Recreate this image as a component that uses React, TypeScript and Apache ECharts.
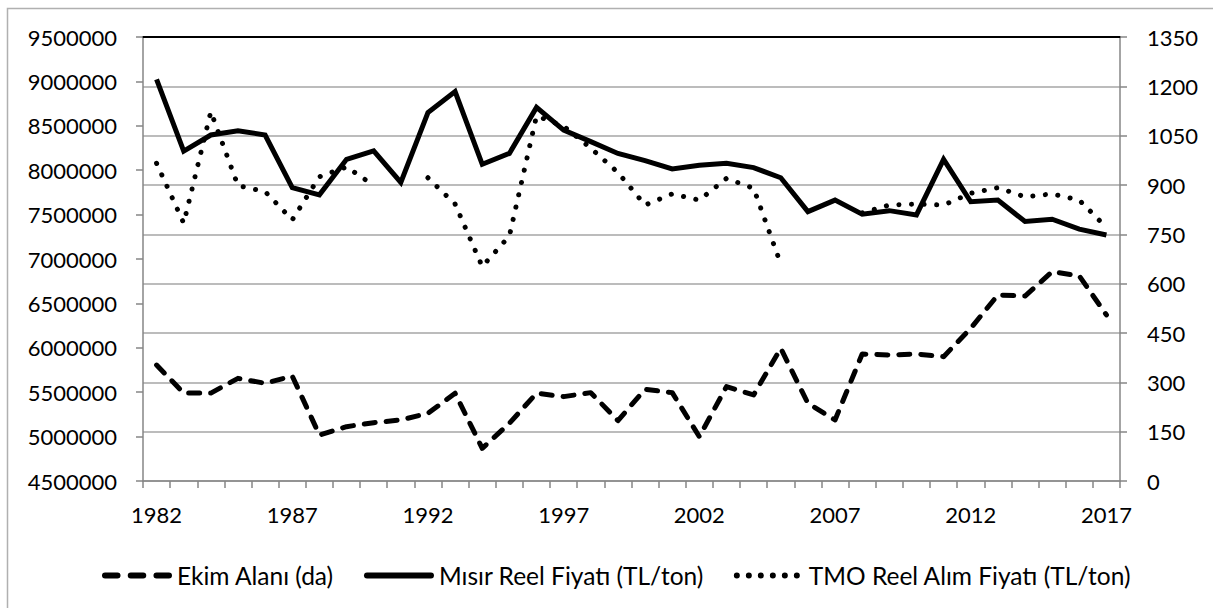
import React, { useEffect, useRef } from "react";
import * as echarts from "echarts";

const years: string[] = [];
for (let y = 1982; y <= 2017; y++) years.push(String(y));

const ekimAlani = [
  5806000, 5490000, 5490000, 5656000, 5600000, 5682000, 5018000, 5112000, 5157000, 5187000,
  5262000, 5488000, 4868000, 5150000, 5488000, 5450000, 5495000, 5180000, 5533000, 5495000,
  4999000, 5563000, 5469000, 5994000, 5375000, 5187000, 5930000, 5919000, 5930000, 5900000,
  6220000, 6595000, 6583000, 6857000, 6809000, 6370000,
];

const misirFiyat = [
  1221, 1003, 1052, 1065, 1052, 892, 870, 978, 1004, 908,
  1120, 1184, 963, 996, 1136, 1067, 1032, 996, 974, 949,
  960, 966, 953, 922, 819, 854, 811, 822, 809, 978,
  849, 854, 789, 796, 766, 748,
];

const tmoFiyat: (number | null)[] = [
  966, 784, 1123, 898, 880, 794, 925, 955, 899, null,
  922, 842, 652, 745, 1110, 1079, 1012, 938, 839, 873,
  854, 920, 890, 660, null, null, 815, 839, 842, 839,
  875, 892, 864, 873, 854, 771,
];

const leftTicks = { min: 4500000, max: 9500000, interval: 500000 };
const rightTicks = { min: 0, max: 1350, interval: 150 };

const FONT = "Lato";

function pill(x0: number, x1: number, r: number) {
  return `M${x0 + r},0 H${x1 - r} A${r},${r} 0 0 1 ${x1 - r},${2 * r} H${x0 + r} A${r},${r} 0 0 1 ${x0 + r},0 Z `;
}
function dot(cx: number, r: number) {
  return `M${cx - r},${r} A${r},${r} 0 1 0 ${cx + r},${r} A${r},${r} 0 1 0 ${cx - r},${r} Z `;
}
const dashedIcon = "path://" + pill(0, 18, 3) + pill(25, 43, 3) + pill(50, 68, 3);
const solidIcon = "path://" + pill(0, 70, 3);
const dottedIcon = "path://" + [3, 15, 27, 39, 51, 63].map((c) => dot(c, 3)).join("") + "M0,0 M70,6";

export default function App() {
  const ref = useRef<HTMLDivElement>(null);
  useEffect(() => {
    if (!ref.current) return;
    const chart = echarts.init(ref.current, null, { renderer: "svg" });
    const axisColor = "#868686";
    const gridColor = "#a6a6a6";
    const labelStyle = { color: "#000", fontFamily: FONT, fontSize: 22 };
    chart.setOption({
      animation: false,
      backgroundColor: "#fff",
      textStyle: { fontFamily: FONT },
      graphic: [
        {
          type: "rect",
          shape: { x: 7.5, y: 8.5, width: 1230, height: 640 },
          style: { fill: "none", stroke: "#b0b0b0", lineWidth: 1.5 },
          z: -10,
          silent: true,
        },
      ],
      grid: { left: 143, right: 93, top: 37, bottom: 127, containLabel: false },
      legend: {
        left: 97,
        top: 558,
        itemWidth: 70,
        itemHeight: 6,
        itemGap: 30,
        symbolKeepAspect: false,
        itemStyle: { color: "#000", borderWidth: 0 },
        textStyle: { color: "#000", fontFamily: FONT, fontSize: 24.5 },
        data: [
          { name: "Ekim Alanı (da)", icon: dashedIcon },
          { name: "Mısır Reel Fiyatı (TL/ton)", icon: solidIcon },
          { name: "TMO Reel Alım Fiyatı (TL/ton)", icon: dottedIcon },
        ],
      },
      xAxis: [
        {
          type: "category",
          data: years,
          boundaryGap: true,
          axisLine: { lineStyle: { color: axisColor, width: 1.5 } },
          axisTick: { show: true, interval: 0, length: 7, lineStyle: { color: axisColor, width: 1.5 } },
          axisLabel: { interval: 4, margin: 22, ...labelStyle },
          splitLine: { show: false },
        },
        {
          type: "category",
          data: years,
          position: "top",
          boundaryGap: true,
          axisLine: { lineStyle: { color: "#000", width: 2 } },
          axisTick: { show: false },
          axisLabel: { show: false },
          splitLine: { show: false },
        },
      ],
      yAxis: [
        {
          type: "value",
          position: "left",
          min: leftTicks.min,
          max: leftTicks.max,
          interval: leftTicks.interval,
          axisLine: { show: true, lineStyle: { color: axisColor, width: 1.5 } },
          axisTick: { show: true, length: 7, lineStyle: { color: axisColor, width: 1.5 } },
          axisLabel: { margin: 26, formatter: (v: number) => String(v), ...labelStyle },
          splitLine: { show: false },
        },
        {
          type: "value",
          position: "right",
          min: rightTicks.min,
          max: rightTicks.max,
          interval: rightTicks.interval,
          axisLine: { show: true, lineStyle: { color: axisColor, width: 1.5 } },
          axisTick: { show: true, length: 7, lineStyle: { color: axisColor, width: 1.5 } },
          axisLabel: { margin: 27, formatter: (v: number) => String(v), ...labelStyle },
          splitLine: { show: true, lineStyle: { color: gridColor, width: 1.5 } },
        },
      ],
      series: [
        {
          name: "Ekim Alanı (da)",
          type: "line",
          xAxisIndex: 0,
          yAxisIndex: 0,
          data: ekimAlani,
          symbol: "none",
          lineStyle: { color: "#000", width: 5, type: [11, 11], cap: "round", join: "round" },
          itemStyle: { color: "#000" },
        },
        {
          name: "Mısır Reel Fiyatı (TL/ton)",
          type: "line",
          xAxisIndex: 0,
          yAxisIndex: 1,
          data: misirFiyat,
          symbol: "none",
          lineStyle: { color: "#000", width: 5, type: "solid", join: "miter" },
          itemStyle: { color: "#000" },
        },
        {
          name: "TMO Reel Alım Fiyatı (TL/ton)",
          type: "line",
          xAxisIndex: 0,
          yAxisIndex: 1,
          data: tmoFiyat,
          connectNulls: false,
          symbol: "none",
          lineStyle: { color: "#000", width: 5, type: [0.1, 12.5], cap: "round", join: "round" },
          itemStyle: { color: "#000" },
        },
      ],
    });
    return () => chart.dispose();
  }, []);
  return (
    <div
      ref={ref}
      style={{ position: "fixed", left: 0, top: 0, width: 1213, height: 608, background: "#fff" }}
    />
  );
}
